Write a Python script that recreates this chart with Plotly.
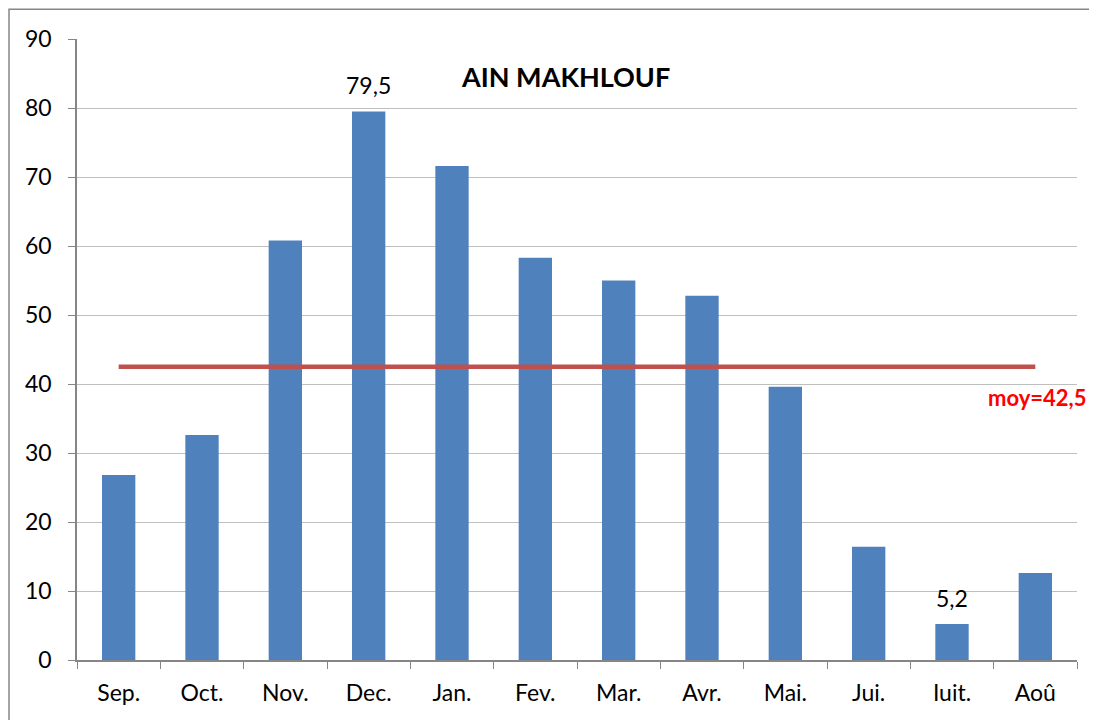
import plotly.graph_objects as go

months = ["Sep.", "Oct.", "Nov.", "Dec.", "Jan.", "Fev.", "Mar.", "Avr.", "Mai.", "Jui.", "Iuit.", "Aoû"]
rain = [26.8, 32.6, 60.8, 79.5, 71.6, 58.3, 55.0, 52.8, 39.6, 16.4, 5.2, 12.6]
mean_rain = 42.5

font = "Lato, Open Sans, sans-serif"

fig = go.Figure()
fig.add_trace(go.Bar(
    x=months, y=rain, width=0.4,
    marker=dict(color="#4F81BD", line=dict(width=0)),
))
fig.add_trace(go.Scatter(
    x=[months[0], months[-1]], y=[mean_rain, mean_rain],
    mode="lines", line=dict(color="#C0504D", width=4.5),
))

# only the max and min bars carry a label
for m, v in zip(months, rain):
    if v in (max(rain), min(rain)):
        fig.add_annotation(x=m, y=v, text=f"{v:.1f}".replace(".", ","),
                           yanchor="bottom", yshift=10, showarrow=False,
                           font=dict(size=23, color="black", family=font))

fig.add_annotation(text="<b>AIN MAKHLOUF</b>", xref="paper", yref="paper",
                   x=0.488, y=0.94, yanchor="middle", showarrow=False,
                   font=dict(size=27, color="black", family=font))
fig.add_annotation(text="<b>moy=" + f"{mean_rain}".replace(".", ",") + "</b>",
                   xref="paper", yref="paper", x=1.011, y=0.422, xanchor="right",
                   yanchor="middle", showarrow=False,
                   font=dict(size=22, color="#FF0000", family=font))

# outer chart frame
fig.add_shape(type="rect", xref="paper", yref="paper",
              x0=-0.068, y0=-0.12, x1=1.05, y1=1.048,
              line=dict(color="#868686", width=1.5), layer="below")

# page body adds an 8px offset, so the figure is 8px smaller
fig.update_layout(
    width=1089, height=712,
    margin=dict(l=69, r=20, t=31, b=60),
    plot_bgcolor="white", paper_bgcolor="white",
    showlegend=False, bargap=0.6,
    font=dict(family=font, size=23, color="black"),
)
fig.update_xaxes(
    type="category", tickson="boundaries", ticks="outside", ticklen=7,
    tickcolor="#868686", showline=True, linecolor="#868686", linewidth=1.5,
    showgrid=False, tickfont=dict(size=23), ticklabelstandoff=12,
)
fig.update_yaxes(
    range=[0, 90], dtick=10, ticks="outside", ticklen=7, tickcolor="#868686",
    showline=True, linecolor="#868686", linewidth=1.5,
    gridcolor="#BFBFBF", gridwidth=1, tickfont=dict(size=23),
    ticklabelstandoff=12, zeroline=False,
)

fig.write_html("out.html")
